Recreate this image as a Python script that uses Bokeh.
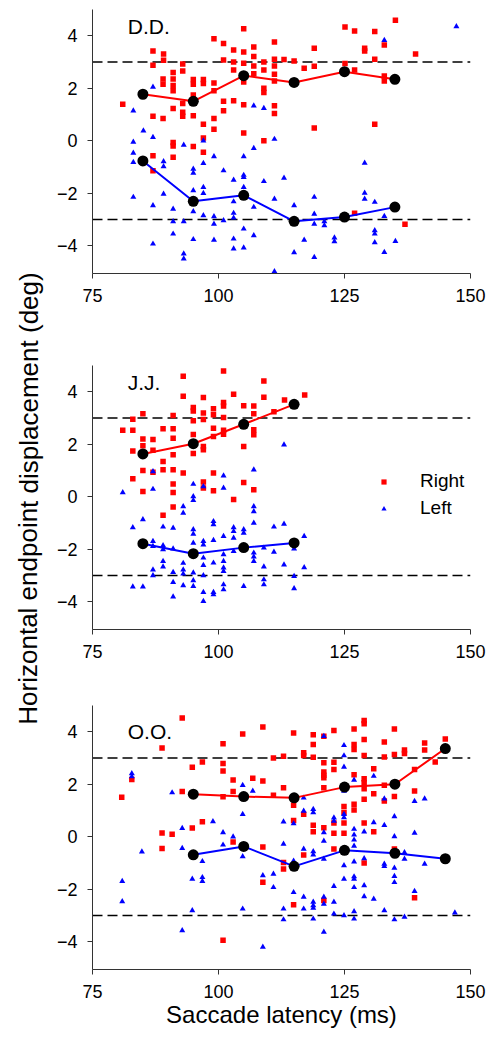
from bokeh.plotting import figure
from bokeh.models import Range1d, FixedTicker, Span, Label, Legend, LegendItem
from bokeh.layouts import row, column
from bokeh.embed import file_html
from bokeh.resources import INLINE

FONT = "Liberation Sans"
RED = "#ff0000"
BLUE = "#0000ff"

# ---------------- data ----------------
x_ticks = [75, 100, 125, 150]
y_ticks = [-4, -2, 0, 2, 4]
criterion = [3, -3]
x_label = "Saccade latency (ms)"
y_label = "Horizontal endpoint displacement (deg)"
legend_labels = ["Right", "Left"]
subjects = ["D.D.", "J.J.", "O.O."]

# D.D.
dd_right_x = [81.0, 87.0, 89.1, 89.1, 87.0, 92.9, 92.9, 91.0, 91.0, 91.0, 91.0, 89.0, 89.0,
              87.0, 89.0, 91.0, 92.9, 92.9, 92.9, 95.0, 95.0, 95.0, 97.0, 97.0, 95.0, 97.0,
              99.1, 101.0, 103.0, 101.0, 103.0, 103.0, 105.0, 105.0, 105.0, 107.0, 107.0, 107.0, 107.0,
              109.0, 109.0, 111.1, 111.1, 111.1, 111.1, 111.1, 113.0, 115.0, 117.0, 119.0, 119.0,
              99.1, 99.1, 101.0, 101.0, 103.0, 105.0, 105.0, 109.0, 109.0, 111.1, 111.1, 99.1, 99.1,
              97.0, 95.0, 91.0, 91.0, 87.0, 91.0, 97.0, 105.0, 109.0, 119.0,
              125.1, 127.0, 131.0, 135.1, 129.0, 129.0, 132.9, 131.0, 125.1, 127.0, 132.9, 132.9,
              131.0, 139.1, 87.0, 127.0, 137.0]
dd_right_y = [1.39, 3.42, 3.30, 3.07, 2.88, 2.92, 2.66, 2.60, 2.35, 2.10, 1.90, 2.35, 2.15,
              0.93, 0.85, 1.23, 1.42, 1.08, 0.93, 2.33, 2.15, 1.74, 2.33, 2.18, 0.95, 0.63,
              3.89, 3.70, 3.46, 3.08, 3.00, 2.69, 4.27, 3.38, 2.95, 3.57, 3.21, 2.85, 2.55,
              3.00, 2.69, 3.76, 3.10, 2.85, 2.53, 2.28, 3.09, 3.04, 2.76, 3.52, 2.84,
              2.20, 1.90, 1.50, 1.14, 1.52, 2.24, 1.37, 2.00, 1.84, 1.33, 1.04, 0.85, 0.44,
              0.10, -0.22, -0.07, -0.20, -0.57, -0.63, -0.44, 0.29, 0.00, 0.48,
              4.33, 4.18, 4.16, 4.59, 3.52, 3.42, 3.65, 3.10, 2.94, 2.69, 2.47, 2.28,
              0.63, 3.30, -1.14, -2.76, -3.18]
dd_left_x = [87.0, 83.1, 85.1, 87.0, 83.1, 93.1, 97.0, 107.0, 109.0, 111.1, 107.0, 105.0, 132.9, 147.2,
             83.1, 83.1, 83.1, 87.0, 87.0, 89.1, 89.1, 89.1, 91.0, 91.0, 91.0, 93.1, 93.1, 93.1,
             95.0, 95.0, 95.0, 95.0, 95.0, 97.0, 97.0, 97.0, 97.0, 99.1, 99.1, 99.1, 99.1,
             101.0, 101.0, 103.0, 103.0, 103.0, 103.0, 103.0, 103.0, 105.0, 105.0, 105.0, 105.0, 105.0,
             107.0, 107.0, 109.0, 111.1, 111.1, 113.0, 115.0, 115.0, 117.0, 119.0, 119.0, 119.0, 119.0,
             121.0, 121.0, 123.0, 123.0, 129.0, 129.0, 129.0, 131.0, 131.0, 131.0, 131.0,
             132.9, 132.9, 135.1]
dd_left_y = [2.05, 1.14, 0.38, 0.13, -0.05, -0.16, 0.00, 1.33, 1.24, 0.06, -0.29, -0.60, 3.83, 4.35,
             -0.47, -0.82, -2.15, -2.47, -3.93, -0.79, -0.98, -2.03, -2.60, -3.08, -3.55, -3.08, -4.31, -4.50,
             -1.08, -1.23, -1.90, -2.70, -3.76, -0.86, -1.77, -2.00, -2.85, -0.60, -2.89, -3.17, -3.78,
             -1.14, -3.04, -1.50, -2.32, -2.76, -2.94, -3.74, -4.12, -1.31, -1.39, -1.77, -3.36, -4.08,
             -2.53, -3.61, -1.55, -2.22, -4.98, -1.42, -2.47, -4.26, -3.78, -2.15, -2.79, -3.17, -4.44,
             -3.08, -3.23, -3.70, -3.84, -0.85, -1.99, -2.22, -2.34, -3.42, -3.55, -3.88,
             -2.88, -4.25, -3.83]
dd_mean_x = [85, 95, 105, 115, 125, 135]
dd_mean_right = [1.77, 1.50, 2.48, 2.22, 2.63, 2.34]
dd_mean_left = [-0.77, -2.31, -2.08, -3.07, -2.91, -2.53]

# J.J.
jj_right_x = [81.0, 83.0, 83.0, 85.0, 85.0, 85.0, 83.0, 87.0, 87.0, 89.0, 89.0, 91.0, 91.0, 91.0, 91.0,
              93.0, 93.0, 95.0, 95.0, 95.0, 95.0, 95.0, 97.0, 97.0, 97.0, 97.0, 97.0, 99.0, 99.0, 99.0, 99.0,
              101.0, 101.0, 101.0, 101.0, 101.0, 101.0, 103.0, 105.0, 105.0, 107.0, 107.0, 107.0, 107.0,
              109.0, 109.0, 111.0, 113.1, 117.1,
              83.0, 85.0, 85.0, 87.0, 89.0, 91.0, 91.0, 91.0, 91.0, 89.0, 93.0, 97.0, 97.0, 99.0, 99.0,
              103.0, 105.0, 107.0]
jj_right_y = [2.53, 2.95, 2.53, 3.16, 2.20, 1.94, 1.74, 2.18, 1.77, 2.59, 1.34, 3.09, 2.59, 2.23, 1.60,
              4.59, 3.83, 3.40, 3.27, 2.89, 2.37, 1.65, 3.78, 3.19, 2.94, 1.91, 1.79, 3.35, 3.12, 2.61, 2.29,
              4.79, 3.59, 3.46, 3.02, 2.53, 2.38, 3.90, 3.47, 1.91, 3.46, 3.16, 2.55, 2.36,
              4.41, 3.79, 3.24, 3.69, 3.88,
              0.68, 0.20, 1.00, 0.93, 1.03, 1.03, 0.48, 0.16, -0.39, -0.71, 0.90, 0.56, 0.33, 0.90, 0.23,
              -0.11, 0.54, 0.27]
jj_left_x = [81, 87, 87, 83, 85, 87, 87, 87, 87, 83, 85, 89, 89, 89, 89, 89, 91, 91, 91, 91, 91,
             93, 93, 93, 93, 93, 93, 95, 95, 95, 95, 95, 95, 95, 95, 95, 97, 97, 97, 97, 97, 97, 97, 97,
             99, 99, 99, 99, 99, 99, 101, 101, 101, 101, 101, 101, 101, 101, 101, 103, 103, 103, 103,
             105, 105, 105, 107, 107, 107, 107, 107, 107, 107, 109, 109, 109, 109, 111, 111, 113, 113,
             115, 115, 115, 117, 117, 113]
jj_left_y = [0.16, 0.96, 0.29, -1.17, -0.87, -1.70, -1.89, -2.78, -3.00, -3.43, -3.43, -1.15, -1.86, -2.01,
             -2.46, -2.67, -1.19, -1.98, -2.88, -3.26, -3.81,
             -0.37, -0.62, -2.53, -2.78, -2.94, -3.38, 0.48, 0.01, -0.14, -1.25, -1.42, -1.76, -2.90, -3.19, -3.41,
             0.39, -1.70, -1.83, -2.33, -2.61, -3.00, -3.64, -3.98,
             -0.94, -1.06, -1.66, -2.52, -3.64, -3.73, 0.80, 0.33, -1.51, -2.20, -2.46, -2.71, -2.84, -3.35, -3.54,
             -1.17, -1.32, -1.57, -2.08, -1.25, -1.38, -3.41, 1.03, -0.37, -0.56, -1.00, -2.14, -2.29, -2.46,
             -1.95, -2.67, -3.16, -3.35, -1.15, -2.11, -1.04, -2.59, -1.98, -3.03, -3.50, -1.51, -2.70, 1.98]
jj_mean_x = [85, 95, 105, 115]
jj_mean_right = [1.63, 2.02, 2.76, 3.52]
jj_mean_left = [-1.79, -2.17, -1.94, -1.76]

# O.O.
oo_right_x = [80.8, 82.8, 88.8, 92.8, 92.8, 94.8, 96.8, 88.8, 90.8, 94.8, 96.8, 100.9, 100.9, 100.9, 100.9,
              102.9, 102.9, 104.8, 106.8, 108.8, 108.8, 110.9, 110.9, 112.9, 112.9, 114.9, 114.9, 114.9,
              116.9, 116.9, 116.9, 118.8, 118.8, 118.8, 118.8, 118.8, 120.9, 120.9, 120.9, 120.9, 120.9,
              120.9, 120.9, 122.9, 122.9, 122.9, 122.9, 122.9, 124.9, 124.9, 124.9, 124.9,
              126.9, 126.9, 126.9, 126.9, 126.9, 126.9, 128.9, 128.9, 128.9, 128.9, 128.9, 128.9, 128.9,
              128.9, 128.9, 130.8, 130.8, 130.8, 132.9, 132.9, 132.9, 132.9, 134.9, 134.9, 134.9,
              136.9, 136.9, 138.9, 138.9, 140.9, 140.9, 143.0, 145.0,
              88.8, 100.9, 102.9, 108.8, 108.8, 112.9, 112.9, 114.9, 116.9, 120.9, 122.9, 128.9, 134.9, 138.9]
oo_right_y = [1.50, 2.18, 3.38, 4.52, 1.72, 2.65, 2.85, 0.14, 0.09, 0.33, 0.57, 3.54, 2.79, 2.50, 1.52,
              2.16, 1.72, 3.91, 2.23, 4.18, 2.12, 3.00, 1.58, 3.07, 1.87, 3.95, 1.20, 0.62,
              3.20, 3.09, 0.86, 3.89, 3.51, 3.03, 0.44, 0.19, 3.83, 2.82, 2.47, 2.34, 2.25,
              1.87, 0.34, 4.05, 2.84, 2.56, 0.52, 0.13, 1.15, 0.92, 0.52, 0.13,
              4.10, 3.51, 3.32, 2.36, 1.24, 1.02, 4.43, 4.30, 3.70, 3.09, 2.21, 2.06, 1.83,
              1.43, 0.52, 2.59, 1.64, 0.19, 3.61, 3.04, 1.96, 1.36, 4.10, 3.13, 1.53,
              3.30, 3.17, 2.56, 1.74, 3.57, 3.30, 2.85, 3.72,
              -0.45, -3.95, -0.20, -0.39, -1.74, -0.98, -1.23, -2.59, -0.70, -2.43, -0.47, -1.00, -0.47, -2.33]
oo_left_x = [82.8, 82.8, 90.8, 92.8, 98.9, 100.9, 102.9, 104.8, 104.8, 106.8, 112.9, 114.9, 116.9, 116.9,
             118.8, 118.8, 120.9, 120.9, 122.9, 122.9, 124.9, 124.9, 124.9, 124.9, 124.9, 124.9, 126.9, 126.9,
             128.9, 130.8, 130.8, 132.9, 132.9, 134.9, 134.9, 138.9, 138.9, 140.9,
             80.9, 80.9, 84.8, 92.8, 92.8, 94.8, 94.8, 96.8, 96.8, 96.8, 100.9, 104.8, 104.8, 108.8, 108.8,
             110.9, 110.9, 112.9, 112.9, 112.9, 114.9, 114.9, 116.9, 116.9, 116.9, 118.8, 118.8, 118.8,
             118.8, 118.8, 118.8, 120.9, 120.9, 120.9, 120.9, 120.9, 122.9, 122.9, 122.9, 124.9, 124.9,
             124.9, 126.9, 126.9, 126.9, 126.9, 126.9, 126.9, 126.9, 126.9, 126.9, 128.9, 128.9, 128.9,
             130.8, 132.9, 132.9, 132.9, 134.9, 134.9, 134.9, 134.9, 136.9, 136.9, 136.9, 138.9, 140.9, 146.9]
oo_left_y = [2.41, 2.29, 1.68, 0.32, 0.58, 0.16, 0.00, 1.96, 0.86, 1.74, 0.57, 0.50, 1.48, 0.98,
             1.05, 0.92, 3.83, 0.16, 0.72, 0.60, 3.48, 3.09, 2.66, 1.74, 0.86, 0.73, 2.16, 0.29,
             0.19, 2.31, 0.54, 1.45, 0.44, 0.77, 0.01, 1.35, 0.14, 1.45,
             -1.70, -2.47, -0.57, -0.44, -3.57, -1.61, -2.81, -0.94, -1.55, -1.70, -0.31, -0.75, -2.75, -1.48, -4.20,
             -1.42, -1.93, -0.28, -2.75, -3.16, -0.92, -2.12, -0.47, -2.30, -2.75, -0.56, -0.69, -2.49,
             -2.62, -2.72, -3.13, -0.16, -0.85, -2.30, -2.56, -3.63, -1.89, -2.49, -2.94, -1.10, -1.61,
             -3.00, 0.07, -0.12, -0.35, -0.95, -1.52, -1.61, -1.93, -2.85, -3.13, -0.83, -1.86, -2.28,
             -2.37, -1.04, -1.13, -2.81, -1.19, -1.51, -1.74, -3.16, -0.60, -0.85, -3.06, -2.08, -1.04, -2.90]
oo_mean_x = [95, 105, 115, 125, 135, 145]
oo_mean_right = [1.62, 1.53, 1.48, 1.89, 2.00, 3.36]
oo_mean_left = [-0.69, -0.37, -1.13, -0.52, -0.63, -0.84]

# ---------------- figures ----------------
LABEL_W = 48
PANEL_W = 494 - LABEL_W
FRAME_H = 264
FRAME_W = 382


def make_panel(name, rx, ry, lx, ly, mx, mr, ml, top, bottom, left, name_y, xlab=False, legend=None):
    p = figure(width=PANEL_W, height=top + FRAME_H + bottom, output_backend="svg",
               toolbar_location=None, x_range=Range1d(75, 150), y_range=Range1d(-5.06, 5.0),
               min_border_top=top, min_border_bottom=bottom, min_border_left=left,
               min_border_right=PANEL_W - (left - LABEL_W) - FRAME_W - LABEL_W)
    p.grid.visible = False
    p.outline_line_color = None
    p.background_fill_color = "white"
    for v in criterion:
        p.add_layout(Span(location=v, dimension="width", line_color="#000000",
                          line_width=1.5, line_dash="10 5", level="underlay"))
    sq = p.scatter(rx, ry, marker="square", size=5.5, fill_color=RED, line_color=None)
    tri = p.scatter(lx, ly, marker="triangle", size=6, fill_color=BLUE, line_color=None)
    p.line(mx, mr, line_color=RED, line_width=2)
    p.line(mx, ml, line_color=BLUE, line_width=2)
    p.scatter(mx, mr, marker="circle", size=11, fill_color="black", line_color=None)
    p.scatter(mx, ml, marker="circle", size=11, fill_color="black", line_color=None)
    p.add_layout(Label(x=82.0, y=name_y, text=name,
                       text_font=FONT, text_font_size="21px", text_color="black",
                       text_baseline="middle", text_align="left"))
    p.xaxis.ticker = FixedTicker(ticks=x_ticks)
    p.yaxis.ticker = FixedTicker(ticks=y_ticks)
    p.yaxis.major_label_overrides = {t: (("\u2212" + str(-t)) if t < 0 else str(t)) for t in y_ticks}
    for ax in (p.xaxis, p.yaxis):
        ax.axis_line_color = "#333333"
        ax.axis_line_width = 1
        ax.major_tick_line_color = "#333333"
        ax.major_tick_in = 0
        ax.major_tick_out = 5
        ax.minor_tick_line_color = None
        ax.major_label_text_font = FONT
        ax.major_label_text_font_size = "18px"
        ax.major_label_text_color = "black"
    p.xaxis.major_label_standoff = 10
    p.yaxis.major_label_standoff = 10
    if xlab:
        p.xaxis.axis_label = x_label
        p.xaxis.axis_label_text_font = FONT
        p.xaxis.axis_label_text_font_size = "24px"
        p.xaxis.axis_label_text_font_style = "normal"
        p.xaxis.axis_label_text_color = "black"
        p.xaxis.axis_label_standoff = 0
    if legend:
        lg = Legend(items=[LegendItem(label=legend[0], renderers=[sq]),
                           LegendItem(label=legend[1], renderers=[tri])],
                    location=(285, 110), orientation="vertical",
                    glyph_width=13, glyph_height=13, label_standoff=30, spacing=5,
                    padding=0, margin=0, border_line_color=None, background_fill_alpha=0,
                    label_text_font=FONT, label_text_font_size="19px", label_text_color="black")
        p.add_layout(lg)
    return p


# frame left edges on the page: 88, 89, 92 -> borders measured from the panel canvas
p1 = make_panel(subjects[0], dd_right_x, dd_right_y, dd_left_x, dd_left_y,
                dd_mean_x, dd_mean_right, dd_mean_left, top=9, bottom=50, left=88 - LABEL_W,
                name_y=4.35)
p2 = make_panel(subjects[1], jj_right_x, jj_right_y, jj_left_x, jj_left_y,
                jj_mean_x, jj_mean_right, jj_mean_left, top=42, bottom=50, left=89 - LABEL_W,
                name_y=4.35, legend=legend_labels)
p3 = make_panel(subjects[2], oo_right_x, oo_right_y, oo_left_x, oo_left_y,
                oo_mean_x, oo_mean_right, oo_mean_left, top=26, bottom=75, left=92 - LABEL_W,
                name_y=4.0, xlab=True)

total_h = p1.height + p2.height + p3.height
lab = figure(width=LABEL_W, height=total_h, output_backend="svg", toolbar_location=None,
             x_range=Range1d(0, LABEL_W), y_range=Range1d(0, total_h),
             x_axis_type=None, y_axis_type=None, min_border=0)
lab.grid.visible = False
lab.outline_line_color = None
lab.add_layout(Label(x=28, y=total_h - 498, text=y_label, angle=1.5707963, angle_units="rad",
                     text_font=FONT, text_font_size="26px", text_color="black",
                     text_align="center", text_baseline="middle"))

layout = row(lab, column(p1, p2, p3))
open("out.html", "w").write(file_html(layout, INLINE))
